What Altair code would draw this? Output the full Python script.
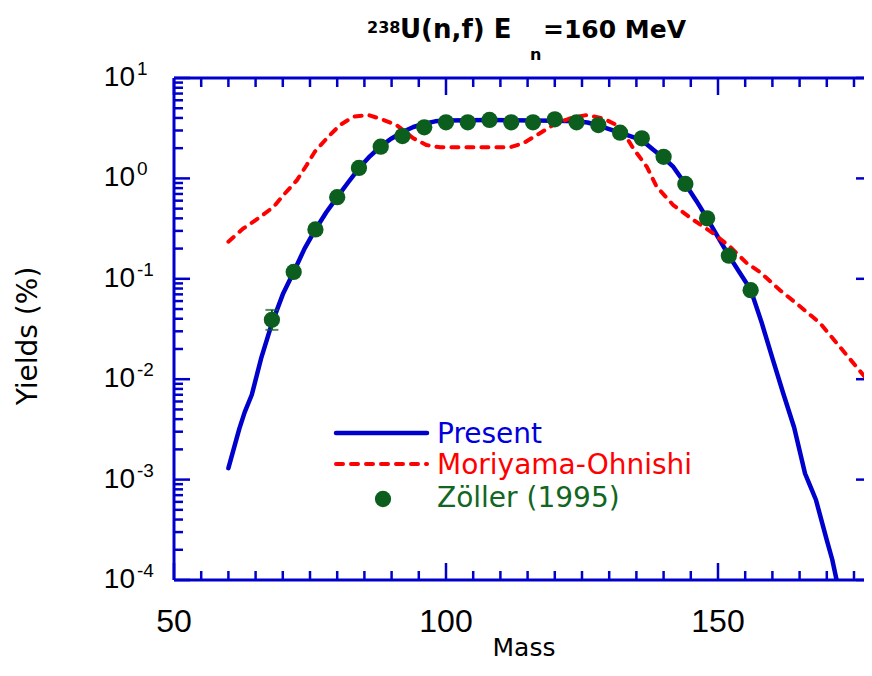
import altair as alt
import pandas as pd

# ---------------- data ----------------
present_mass = [60, 62, 63, 64.3, 66, 68, 70, 72, 74, 76, 78, 80, 82, 84, 86, 88, 90, 92, 94, 96, 98,
                100, 104, 108, 112, 116, 120, 124, 126, 128, 130, 132, 134, 136, 138, 140, 141.7,
                144, 146, 148, 150, 152, 154, 156, 158, 160, 162, 164, 166, 167, 168, 170, 171, 171.8]
present_yield = [0.0013, 0.0032, 0.0047, 0.007, 0.016, 0.036, 0.07, 0.117, 0.20, 0.31, 0.46, 0.65, 0.91,
                 1.26, 1.66, 2.09, 2.5, 2.9, 3.25, 3.5, 3.7,
                 3.78, 3.8, 3.82, 3.8, 3.78, 3.76, 3.7, 3.6, 3.38, 3.1, 2.85, 2.62, 2.4, 1.95, 1.6, 1.32,
                 0.88, 0.6, 0.40, 0.26, 0.17, 0.115, 0.078, 0.037, 0.0162, 0.0072, 0.0033, 0.00115,
                 0.00085, 0.00063, 0.00025, 0.00016, 0.0001]

mo_mass = [60, 62.7, 65.5, 68.3, 70.1, 72.6, 74.4, 75.9, 78.1, 80.5, 83, 85.7, 88.2, 90.9, 94, 96.4,
           98.9, 105, 111.8, 114.2, 116.7, 119.7, 122.8, 125.9, 128.9, 132, 134.4, 136.9, 138.7,
           141.8, 145.5, 149.1, 152.2, 155.3, 157.7, 161.4, 165.1, 168.8, 172.4, 175.5, 178.5, 180]
mo_yield = [0.234, 0.316, 0.40, 0.52, 0.68, 0.96, 1.36, 1.85, 2.51, 3.40, 4.12, 4.28, 3.88, 3.40, 2.51,
            2.15, 2.04, 2.04, 2.04, 2.24, 2.7, 3.4, 3.96, 4.28, 3.96, 3.27, 2.0, 1.31, 0.83,
            0.54, 0.385, 0.284, 0.209, 0.143, 0.117, 0.077, 0.053, 0.036, 0.021, 0.0132, 0.0084, 0.0068]

zoller_mass = [68, 72, 76, 80, 84, 88, 92, 96, 100, 104, 108, 112, 116, 120, 124, 128, 132, 136,
               140, 144, 148, 152, 156]
zoller_yield = [0.039, 0.117, 0.31, 0.65, 1.27, 2.07, 2.64, 3.23, 3.62, 3.62, 3.82, 3.62, 3.62, 3.88,
                3.62, 3.40, 2.85, 2.51, 1.64, 0.88, 0.40, 0.17, 0.077]
# visible error bar (the others are hidden by the markers)
zoller_err_mass = [68]
zoller_err_lo = [0.031]
zoller_err_hi = [0.049]

x_major = [50, 100, 150]
x_major_labels = ["50", "100", "150"]
x_minor = [55, 60, 65, 70, 75, 80, 85, 90, 95, 105, 110, 115, 120, 125, 130, 135, 140, 145,
           155, 160, 165, 170, 175]
y_major = [1e-4, 1e-3, 1e-2, 1e-1, 1e0, 1e1]
y_exponents = ["-4", "-3", "-2", "-1", "0", "1"]
y_minor = [m * 10.0 ** e for e in range(-4, 1) for m in range(2, 10)]

legend_labels = ["Present", "Moriyama-Ohnishi", "Zöller (1995)"]
title_parts = ["238", "U(n,f) E", "n", "=160 MeV"]

# ---------------- style ----------------
W, H = 690, 502
BLUE = "#0000cc"
RED = "#ff0000"
GREEN = "#0b5e1e"
FONT = "DejaVu Sans"
TFONT = "Liberation Sans"

xs = alt.Scale(domain=[50, 176.84], nice=False, zero=False)
ys = alt.Scale(type="log", domain=[1e-4, 10], nice=False)
X = lambda f: alt.X(f, type="quantitative", scale=xs, axis=None)
Y = lambda f: alt.Y(f, type="quantitative", scale=ys, axis=None)

one = pd.DataFrame({"k": [0]})


def rule_px(x, x2, y, y2, width=3):
    return alt.Chart(one).mark_rule(color=BLUE, strokeWidth=width).encode(
        x=alt.value(x), x2=alt.value(x2), y=alt.value(y), y2=alt.value(y2))


def text_px(t, x, y, size, color="black", weight="normal", align="left",
            baseline="alphabetic", angle=0, font=FONT):
    return alt.Chart(pd.DataFrame({"t": [t]})).mark_text(
        font=font, fontSize=size, fontWeight=weight, color=color, align=align,
        baseline=baseline, angle=angle).encode(x=alt.value(x), y=alt.value(y), text="t:N")


layers = []

# frame (right axis lies just outside the visible window)
layers.append(rule_px(0, 0, 0, H))
layers.append(rule_px(0, W, H, H))
layers.append(rule_px(0, W, 0, 0))

# ticks (inward)
dxmaj = pd.DataFrame({"v": x_major})
dxmin = pd.DataFrame({"v": x_minor})
dymaj = pd.DataFrame({"v": y_major})
dymin = pd.DataFrame({"v": y_minor})
TW = 2.5
layers += [
    alt.Chart(dxmaj).mark_rule(color=BLUE, strokeWidth=TW).encode(x=X("v"), y=alt.value(H), y2=alt.value(H - 17)),
    alt.Chart(dxmin).mark_rule(color=BLUE, strokeWidth=TW).encode(x=X("v"), y=alt.value(H), y2=alt.value(H - 9)),
    alt.Chart(dxmaj).mark_rule(color=BLUE, strokeWidth=TW).encode(x=X("v"), y=alt.value(0), y2=alt.value(17)),
    alt.Chart(dxmin).mark_rule(color=BLUE, strokeWidth=TW).encode(x=X("v"), y=alt.value(0), y2=alt.value(9)),
    alt.Chart(dymaj).mark_rule(color=BLUE, strokeWidth=TW).encode(y=Y("v"), x=alt.value(0), x2=alt.value(16)),
    alt.Chart(dymin).mark_rule(color=BLUE, strokeWidth=TW).encode(y=Y("v"), x=alt.value(0), x2=alt.value(9)),
    alt.Chart(dymaj).mark_rule(color=BLUE, strokeWidth=TW).encode(y=Y("v"), x=alt.value(W - 8), x2=alt.value(W)),
]

# tick labels
layers.append(
    alt.Chart(pd.DataFrame({"v": x_major, "t": x_major_labels})).mark_text(
        font=TFONT, fontSize=32, align="center", baseline="alphabetic", color="black"
    ).encode(x=X("v"), y=alt.value(H + 52), text="t:N"))
layers.append(
    alt.Chart(pd.DataFrame({"v": y_major, "t": ["10"] * len(y_major)})).mark_text(
        font=TFONT, fontSize=28, align="right", baseline="middle", color="black"
    ).encode(y=Y("v"), x=alt.value(-39), text="t:N"))
layers.append(
    alt.Chart(pd.DataFrame({"v": y_major, "t": y_exponents})).mark_text(
        font=TFONT, fontSize=19, align="left", baseline="alphabetic", color="black", dy=-3
    ).encode(y=Y("v"), x=alt.value(-37), text="t:N"))

# data
pres = pd.DataFrame({"x": present_mass, "y": present_yield})
mo = pd.DataFrame({"x": mo_mass, "y": mo_yield})
zo = pd.DataFrame({"x": zoller_mass, "y": zoller_yield})
ze = pd.DataFrame({"x": zoller_err_mass, "lo": zoller_err_lo, "hi": zoller_err_hi})
layers.append(alt.Chart(pres).mark_line(color=BLUE, strokeWidth=4.5, clip=True, strokeCap="round",
                                        strokeJoin="round").encode(x=X("x"), y=Y("y")))
layers.append(alt.Chart(mo).mark_line(color=RED, strokeWidth=4, clip=True, strokeDash=[7, 8],
                                      strokeCap="round").encode(x=X("x"), y=Y("y")))
layers.append(alt.Chart(ze).mark_rule(color=GREEN, strokeWidth=2).encode(x=X("x"), y=Y("lo"), y2="hi:Q"))
layers.append(alt.Chart(ze).mark_tick(color=GREEN, thickness=2, size=13, orient="horizontal").encode(x=X("x"), y=Y("lo")))
layers.append(alt.Chart(ze).mark_tick(color=GREEN, thickness=2, size=13, orient="horizontal").encode(x=X("x"), y=Y("hi")))
layers.append(alt.Chart(zo).mark_circle(color=GREEN, opacity=1, size=265).encode(x=X("x"), y=Y("y")))

# legend
layers.append(alt.Chart(one).mark_rule(color=BLUE, strokeWidth=4.5, strokeCap="round").encode(
    x=alt.value(162), x2=alt.value(253), y=alt.value(355)))
layers.append(alt.Chart(one).mark_rule(color=RED, strokeWidth=4, strokeDash=[7, 8], strokeCap="round").encode(
    x=alt.value(162), x2=alt.value(253), y=alt.value(386)))
layers.append(alt.Chart(one).mark_point(color=GREEN, filled=True, opacity=1, size=265, shape="circle").encode(
    x=alt.value(209), y=alt.value(421)))
layers.append(text_px(legend_labels[0], 263, 365, 28, color="#0000dd"))
layers.append(text_px(legend_labels[1], 263, 396, 28, color=RED))
layers.append(text_px(legend_labels[2], 263, 429, 28, color="#116622"))

# axis titles
layers.append(text_px("Mass", 350, H + 76, 25, align="center"))
layers.append(text_px("Yields (%)", -145, 258, 28, align="center", baseline="middle", angle=270))

# title
layers.append(text_px(title_parts[0], 193, -45, 16, weight="bold"))
layers.append(text_px(title_parts[1], 226, -40, 26, weight="bold"))
layers.append(text_px(title_parts[2], 356, -18, 16, weight="bold"))
layers.append(text_px(title_parts[3], 369, -40, 25, weight="bold"))

chart = alt.layer(*layers).properties(
    width=W, height=H,
    autosize=alt.AutoSizeParams(type="none"),
    padding={"left": 166, "top": 70, "right": 0, "bottom": 84},
).configure_view(stroke=None)

chart.save("out.html", embed_options={"renderer": "svg", "actions": False})
